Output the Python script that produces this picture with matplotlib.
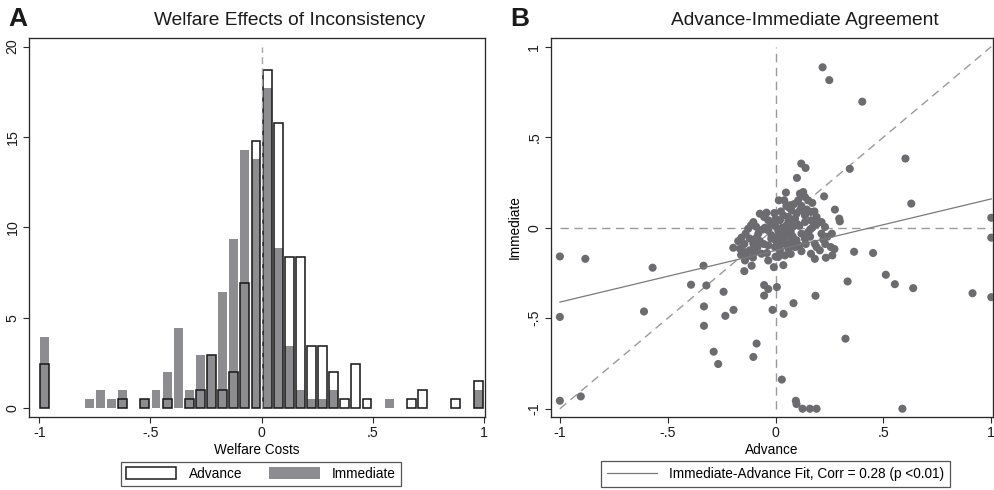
import numpy as np
import matplotlib
matplotlib.use("Agg")
import matplotlib.pyplot as plt
from matplotlib.patches import Patch
from matplotlib.lines import Line2D

plt.rcParams["font.family"] = ["Liberation Sans", "DejaVu Sans"]

# ---------------- data ----------------
# Panel A: histogram of welfare costs (bins of width .05 from -1 to 1), counts of 203 subjects
bin_width = 0.05
bin_centers = np.arange(-0.975, 1.0, bin_width)
advance_counts = [5, 0, 0, 0, 0, 0, 0, 1, 0, 1,
                  0, 1, 0, 1, 2, 6, 2, 4, 14, 30,
                  38, 32, 17, 17, 7, 7, 4, 1, 5, 1,
                  0, 0, 0, 1, 2, 0, 0, 1, 0, 3]
immediate_counts = [8, 0, 0, 0, 1, 2, 1, 2, 0, 1,
                    2, 4, 9, 2, 6, 6, 13, 19, 29, 28,
                    36, 18, 7, 2, 1, 1, 2, 0, 0, 0,
                    0, 1, 0, 0, 0, 0, 0, 0, 0, 2]
n_subjects = 203

# Panel B: advance vs immediate welfare costs per subject
advance_x = [
    # outlying points
    0.218, 0.249, 0.402, 0.602, 0.344, 0.629, 1.000, 1.000, 0.364, 0.452,
    0.511, 0.553, 0.638, 0.913, 1.000, 0.334, 0.324, 0.185, 0.083, 0.037,
    -0.014, 0.006, 0.029, 0.094, 0.097, 0.125, 0.159, 0.190, 0.588, -1.000,
    -0.882, -1.000, -1.000, -0.903, -0.570, -0.610, -0.392, -0.334, -0.321, -0.332,
    -0.332, -0.241, -0.233, -0.195, -0.287, -0.266, -0.088, -0.103, -0.053, -0.034,
    -0.053, 0.225, 0.139, 0.119, 0.099, 0.048, 0.275, 0.295, 0.298, 0.261,
    0.273, 0.263, 0.233, 0.182, 0.036, -0.008, -0.111, -0.145,
    # central cluster
    0.015, 0.040, 0.066, 0.062, 0.113, 0.128, 0.105, 0.136, 0.151, 0.170,
    0.164, -0.073, -0.042, -0.006, -0.053, -0.034, -0.103, 0.074, 0.097, 0.113,
    0.059, 0.090, 0.036, 0.020, 0.136, 0.190, 0.164, 0.136, 0.190, 0.213,
    0.229, 0.170, -0.114, -0.127, -0.139, -0.158, -0.173, -0.080, -0.088, -0.103,
    -0.073, -0.049, -0.034, -0.019, 0.012, 0.036, 0.036, 0.059, 0.074, 0.097,
    0.120, 0.151, 0.136, 0.051, 0.082, -0.003, 0.028, 0.005, 0.213, 0.221,
    -0.196, -0.165, -0.142, -0.119, -0.034, -0.003, 0.020, 0.059, 0.090, 0.182,
    0.190, 0.205, 0.256, 0.164, -0.142, -0.134, -0.034, 0.012, -0.065, -0.096,
    0.043, 0.045, 0.070, 0.030, -0.020, 0.100, 0.080, 0.010, 0.060, 0.025,
    -0.090, -0.060, -0.020, 0.000, 0.025, 0.050, 0.085, 0.120, 0.145, 0.180,
    0.200, 0.160, 0.110, 0.065, 0.045, 0.070, 0.110, 0.140, 0.160, -0.010,
    -0.055, -0.120, -0.145, -0.085, -0.040, 0.000, 0.070, 0.120, 0.230, 0.240,
    -0.160, -0.105,
]
immediate_y = [
    0.886, 0.815, 0.696, 0.382, 0.325, 0.133, 0.055, -0.055, -0.133, -0.140,
    -0.260, -0.312, -0.334, -0.362, -0.384, -0.297, -0.613, -0.376, -0.417, -0.476,
    -0.454, -0.328, -0.839, -0.956, -0.974, -1.000, -1.000, -1.000, -1.000, -0.159,
    -0.172, -0.493, -0.956, -0.932, -0.221, -0.463, -0.315, -0.210, -0.319, -0.435,
    -0.542, -0.354, -0.487, -0.454, -0.685, -0.753, -0.640, -0.714, -0.317, -0.339,
    -0.375, 0.173, 0.330, 0.354, 0.275, 0.194, 0.100, 0.050, 0.035, -0.033,
    -0.118, -0.153, -0.166, -0.172, -0.207, -0.218, -0.210, -0.240,
    0.151, 0.151, 0.124, 0.111, 0.188, 0.197, 0.151, 0.170, 0.151, 0.137,
    0.087, 0.077, 0.083, 0.081, 0.059, 0.041, 0.031, 0.096, 0.077, 0.096,
    0.059, 0.050, 0.068, 0.041, 0.068, 0.059, 0.041, 0.031, 0.018, 0.031,
    0.004, 0.000, 0.013, -0.006, -0.033, -0.055, -0.074, -0.033, -0.055, -0.089,
    -0.074, 0.000, -0.015, -0.042, -0.015, -0.033, -0.061, -0.015, -0.042, -0.070,
    -0.033, -0.024, -0.061, 0.013, 0.007, 0.013, -0.089, -0.079, -0.033, -0.066,
    -0.111, -0.116, -0.135, -0.125, -0.098, -0.107, -0.125, -0.116, -0.107, -0.089,
    -0.107, -0.125, -0.107, -0.144, -0.181, -0.159, -0.181, -0.162, -0.144, -0.135,
    -0.153, -0.050, -0.020, 0.000, -0.060, 0.020, -0.050, -0.050, 0.030, -0.010,
    0.005, -0.010, 0.020, 0.050, 0.090, 0.120, 0.130, 0.120, 0.100, 0.090,
    0.030, -0.010, 0.010, 0.025, -0.090, -0.080, -0.100, -0.090, -0.050, -0.060,
    -0.090, -0.060, -0.090, -0.110, -0.140, -0.160, -0.145, -0.130, -0.090, -0.050,
    -0.150, -0.165,
]

# OLS fit of immediate on advance
fit_intercept = -0.126
fit_slope = 0.285
corr_label = "Immediate-Advance Fit, Corr = 0.28 (p <0.01)"

x_tick_vals = [-1, -0.5, 0, 0.5, 1]
x_tick_text = ["-1", "-.5", "0", ".5", "1"]
hist_y_ticks = [0, 5, 10, 15, 20]
scatter_y_text = ["-1", "-.5", "0", ".5", "1"]

# ---------------- style ----------------
frame_col = "#2a2a2a"
bar_gray = "#8d8d91"
dot_gray = "#6c6c70"
dash_gray = "#9a9a9a"
fit_gray = "#7a7a7a"
tick_fs = 10.2
label_fs = 9.8
title_fs = 13.8

fig = plt.figure(figsize=(9.95, 4.90), dpi=100)
axA = fig.add_axes([0.0295, 0.1496, 0.4575, 0.7722])
axB = fig.add_axes([0.5538, 0.1496, 0.4442, 0.7722])


def style_axes(ax):
    for sp in ax.spines.values():
        sp.set_color(frame_col)
        sp.set_linewidth(0.95)
    ax.tick_params(direction="out", length=4, width=0.8, color=frame_col,
                   labelsize=tick_fs, labelcolor="#1a1a1a", pad=3)
    ax.set_xticks(x_tick_vals)
    ax.set_xticklabels(x_tick_text)


# ---------------- Panel A ----------------
adv_pct = np.array(advance_counts) * 100.0 / n_subjects
imm_pct = np.array(immediate_counts) * 100.0 / n_subjects
bar_w = 0.04
axA.bar(bin_centers, imm_pct, width=bar_w, color=bar_gray, edgecolor="none", zorder=2)
axA.bar(bin_centers[adv_pct > 0], adv_pct[adv_pct > 0], width=bar_w, facecolor="none",
        edgecolor="#1c1c1c", linewidth=1.15, zorder=3)
axA.plot([0, 0], [0, 20], color="#a8a8a8", lw=1.0, dashes=(5, 3), zorder=4)
axA.set_xlim(-1.045, 1.004)
axA.set_ylim(-0.48, 20.46)
style_axes(axA)
axA.set_yticks(hist_y_ticks)
axA.set_yticklabels([str(v) for v in hist_y_ticks], rotation=90, va="center")
axA.set_xlabel("Welfare Costs", fontsize=label_fs, labelpad=2)

legA = fig.legend(
    handles=[Patch(facecolor="white", edgecolor="#1c1c1c", linewidth=1.1),
             Patch(facecolor=bar_gray, edgecolor="none")],
    labels=["Advance", "Immediate"], ncol=2, loc="center",
    bbox_to_anchor=(0.2623, 0.0327), fontsize=label_fs, frameon=True,
    fancybox=False, edgecolor=frame_col, handlelength=3.7, handleheight=1.0,
    handletextpad=0.9, columnspacing=2.0, borderpad=0.35, borderaxespad=0)
legA.get_frame().set_linewidth(0.9)

# ---------------- Panel B ----------------
axB.plot([-1, 1], [0, 0], color=dash_gray, lw=1.0, dashes=(6, 4), zorder=1)
axB.plot([0, 0], [-1, 1], color=dash_gray, lw=1.0, dashes=(6, 4), zorder=1)
axB.plot([-1, 1], [-1, 1], color=dash_gray, lw=1.0, dashes=(6, 4), zorder=1)
axB.scatter(advance_x, immediate_y, s=34, color=dot_gray, edgecolors="none", zorder=3)
fx = np.array([-1.0, 1.0])
axB.plot(fx, fit_intercept + fit_slope * fx, color=fit_gray, lw=0.9, zorder=4)
axB.set_xlim(-1.041, 1.008)
axB.set_ylim(-1.044, 1.046)
style_axes(axB)
axB.set_yticks(x_tick_vals)
axB.set_yticklabels(scatter_y_text, rotation=90, va="center")
axB.set_xlabel("Advance", fontsize=label_fs, labelpad=2)
axB.set_ylabel("Immediate", fontsize=label_fs, labelpad=4)

legB = fig.legend(
    handles=[Line2D([0], [0], color=fit_gray, lw=0.9)], labels=[corr_label],
    loc="center", bbox_to_anchor=(0.7794, 0.0327), fontsize=label_fs, frameon=True,
    fancybox=False, edgecolor=frame_col, handlelength=3.7, handletextpad=0.9,
    borderpad=0.45, borderaxespad=0)
legB.get_frame().set_linewidth(0.9)

# ---------------- titles and panel letters ----------------
fig.text(290 / 995, 0.959, "Welfare Effects of Inconsistency", fontsize=title_fs,
         ha="center", va="center", color="#1a1a1a")
fig.text(805 / 995, 0.959, "Advance-Immediate Agreement", fontsize=title_fs,
         ha="center", va="center", color="#1a1a1a")
fig.text(8 / 995, 0.961, "A", fontsize=19, fontweight="bold", ha="left", va="center",
         color="#1a1a1a")
fig.text(510 / 995, 0.961, "B", fontsize=19, fontweight="bold", ha="left", va="center",
         color="#1a1a1a")

fig.savefig("out.png", dpi=100, facecolor="white")
